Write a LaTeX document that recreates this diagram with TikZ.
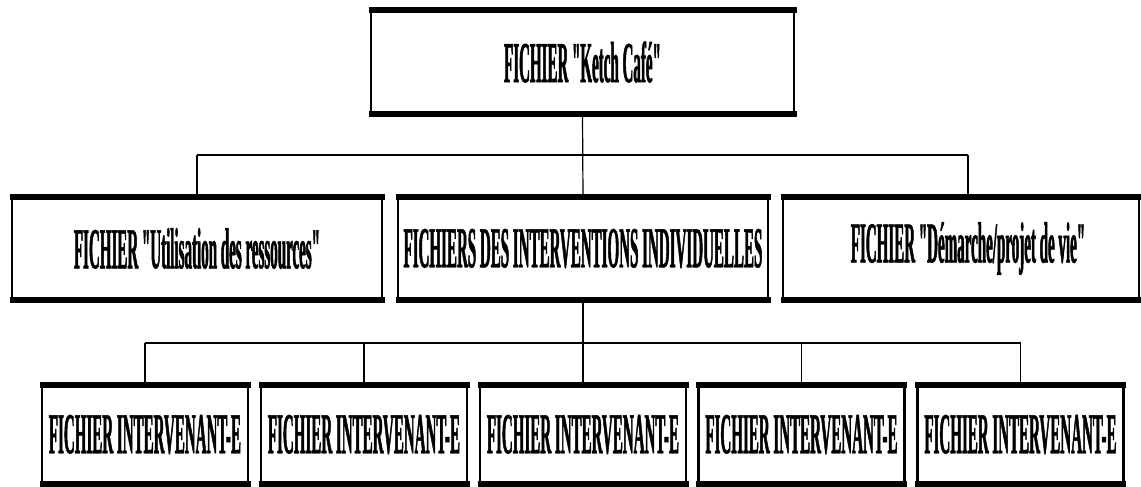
\documentclass[tikz,border=0pt]{standalone}
\usepackage{fontspec}
\setmainfont{Liberation Serif}
% texte des fichiers : gras, tres etroit
\newfontfamily\fichfont{Liberation Serif}[Ligatures=TeXOff, FakeStretch=0.259, FakeBold=0.8]
\newcommand{\fichtxt}[1]{{\fichfont\fontsize{58}{58}\selectfont\bfseries #1}}

\begin{document}
\begin{tikzpicture}[x=1pt, y=-1pt,
  boite/.style={draw, rectangle, line width=2.5pt, inner sep=0pt, minimum height=101pt},
  lien/.style={line width=1.2pt},
  bus/.style={line width=2pt}]
  \useasboundingbox (0,0) rectangle (1141,487);

  % fichier principal
  \node[boite, minimum width=423pt, minimum height=102pt] (ketch) at (582.5,62) {\fichtxt{FICHIER "Ketch Café"}};

  % deuxieme niveau
  \node[boite, minimum width=370pt] (ress) at (197,248.5) {\fichtxt{FICHIER "Utilisation des ressources"}};
  \node[boite, minimum width=370pt] (indiv) at (583,248.5) {\fichtxt{FICHIERS DES INTERVENTIONS INDIVIDUELLES}};
  \node[boite, minimum width=356pt] (demarche) at (961,248.5) {\hspace*{14pt}\fichtxt{FICHIER "Démarche/projet de vie"}};

  % intervenant-e-s
  \foreach \i/\x in {1/145,2/364,3/583,4/801.5,5/1020.5} {
    \node[boite, minimum width=206pt, minimum height=97pt] (interv\i) at (\x,434.5) {\fichtxt{FICHIER INTERVENANT-E}};
  }

  % bords haut et bas plus epais
  \foreach \n in {ketch,ress,indiv,demarche,interv1,interv2,interv3,interv4,interv5} {
    \draw[line width=6pt] ([xshift=-1.25pt]\n.north west) -- ([xshift=1.25pt]\n.north east);
    \draw[line width=6pt] ([xshift=-1.25pt]\n.south west) -- ([xshift=1.25pt]\n.south east);
  }

  % liaisons
  \coordinate (bushaut) at (0,155);
  \coordinate (busbas) at (0,343);
  \draw[lien] (ketch.south) -- (indiv.north);
  \draw[lien] (ress.north) -- (ress.north |- bushaut);
  \draw[lien] ([xshift=7pt]demarche.north) -- ([xshift=7pt]demarche.north |- bushaut);
  \draw[bus] (ress.north |- bushaut) -- ([xshift=7pt]demarche.north |- bushaut);

  \draw[lien] (indiv.south) -- (interv3.north);
  \foreach \i in {1,2,4,5} {
    \draw[lien] (interv\i.north) -- (interv\i.north |- busbas);
  }
  \draw[bus] (interv1.north |- busbas) -- (interv5.north |- busbas);
\end{tikzpicture}
\end{document}
